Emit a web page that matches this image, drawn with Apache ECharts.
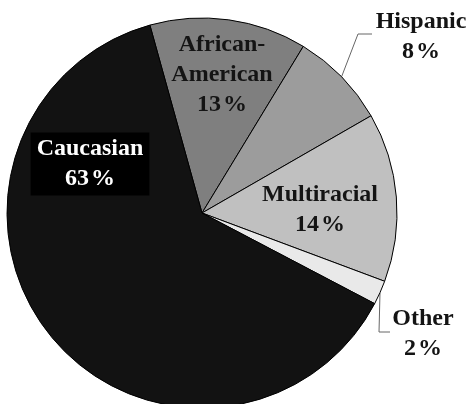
<!DOCTYPE html>
<html>
<head>
<meta charset="utf-8">
<script src="https://cdn.jsdelivr.net/npm/echarts@6/dist/echarts.min.js"></script>
<style>
html, body { margin: 0; padding: 0; background: #fff; }
#chart { width: 469px; height: 404px; }
</style>
</head>
<body>
<div id="chart"></div>
<script>
// share of students by group, in percent
const categories = ['African-American', 'Hispanic', 'Multiracial', 'Other', 'Caucasian'];
const values = [13, 8, 14, 2, 63];

const sliceColors = ['#7f7f7f', '#9c9c9c', '#c0c0c0', '#e9e9e9', '#121212'];
// labels were placed by hand in the original
const labelSpots = [[222, 75], [421, 37], [320, 210], [423, 334], [90, 164]];
const lineBends = [null, [[358, 34], [372, 34]], null, [[379, 332], [390, 332]], null];

const chart = echarts.init(document.getElementById('chart'));

const pieData = categories.map((name, i) => {
    const item = { name: name, value: values[i], itemStyle: { color: sliceColors[i] } };
    if (lineBends[i]) {
        item.label = { position: 'outside' };
        item.labelLine = { show: true };
    }
    if (name === 'Caucasian') {
        item.label = { color: '#fff', backgroundColor: '#000', padding: [1, 6, 2, 6] };
    }
    return item;
});

chart.setOption({
    animation: false,
    series: [{
        type: 'pie',
        center: [202, 213],
        radius: 195,
        startAngle: 105.5,
        clockwise: true,
        itemStyle: { borderColor: '#000', borderWidth: 1 },
        label: {
            position: 'inside',
            fontFamily: 'Liberation Serif',
            fontWeight: 'bold',
            fontSize: 24,
            lineHeight: 30,
            color: '#141414',
            overflow: 'none',
            formatter: p => p.name.replace('-', '-\n') + '\n' + p.value + '\u200a%'
        },
        labelLine: { show: false, lineStyle: { color: '#666', width: 1 } },
        labelLayout: function (params) {
            const i = params.dataIndex;
            const out = { x: labelSpots[i][0], y: labelSpots[i][1], align: 'center', verticalAlign: 'middle' };
            if (lineBends[i] && params.labelLinePoints) {
                out.labelLinePoints = [params.labelLinePoints[0], lineBends[i][0], lineBends[i][1]];
            }
            return out;
        },
        data: pieData
    }]
});
</script>
</body>
</html>
